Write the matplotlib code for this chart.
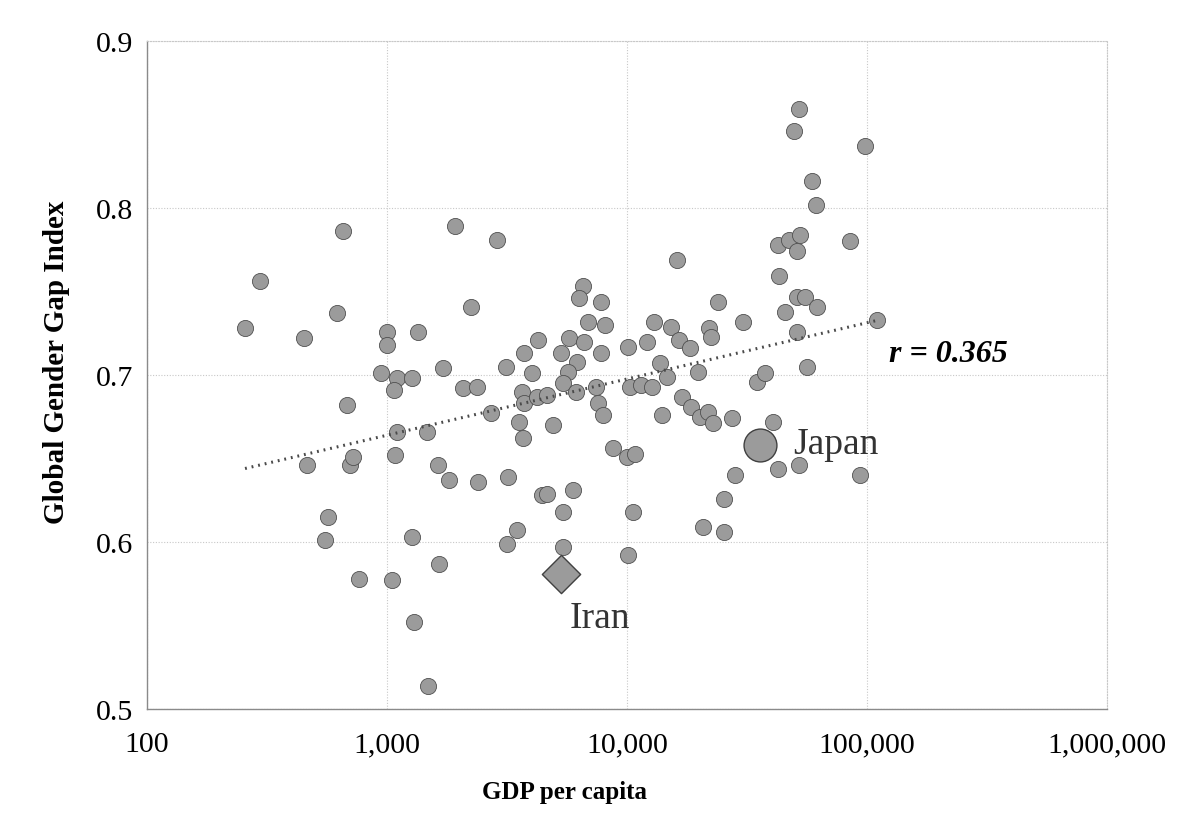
import numpy as np
import matplotlib
matplotlib.use("Agg")
import matplotlib.pyplot as plt
from matplotlib.ticker import FuncFormatter, FixedLocator

# GDP per capita (USD) and Global Gender Gap Index per country
gdp = [
    256, 296, 451, 619, 656, 1000, 1000, 1346, 1712, 944,
    1101, 1271, 1070, 681, 1920, 2873, 2239, 4258, 3723, 3132,
    4020, 464, 701, 722, 1080, 1101, 1468, 1631, 1813, 2394,
    3193, 568, 552, 1271, 1647, 764, 1049, 1295, 1482, 2074,
    2371, 3652, 3723, 4217, 4642, 2712, 3548, 3687, 4424, 4642,
    5957, 5412, 10590, 3481, 3162, 5412, 10100, 8743, 10000, 10800,
    4917, 7570, 7943, 6556, 6310, 7793, 6879, 8096, 5731, 6619,
    5309, 6190, 5679, 7793, 10100, 5412, 6131, 7427, 10290, 11440,
    12710, 16160, 12120, 12950, 15250, 16470, 18300, 21970, 22390, 23940,
    30430, 13720, 14680, 19760, 16960, 18480, 20150, 21760, 22820, 27380,
    13990, 34810, 37580, 40580, 42580, 52120, 28180, 93500, 25370, 20740,
    25370, 42990, 45530, 51090, 55180, 61900, 51090, 56230, 110100, 84950,
    42580, 47320, 52600, 51090, 61310, 59000, 98100, 49630, 52120,
]
ggi = [
    0.728, 0.756, 0.722, 0.737, 0.786, 0.726, 0.718, 0.726, 0.704, 0.701,
    0.698, 0.698, 0.691, 0.682, 0.789, 0.781, 0.741, 0.721, 0.713, 0.705,
    0.701, 0.646, 0.646, 0.651, 0.652, 0.666, 0.666, 0.646, 0.637, 0.636,
    0.639, 0.615, 0.601, 0.603, 0.587, 0.578, 0.577, 0.552, 0.514, 0.692,
    0.693, 0.690, 0.683, 0.687, 0.688, 0.677, 0.672, 0.662, 0.628, 0.629,
    0.631, 0.618, 0.618, 0.607, 0.599, 0.597, 0.592, 0.656, 0.651, 0.653,
    0.670, 0.683, 0.676, 0.753, 0.746, 0.744, 0.732, 0.730, 0.722, 0.720,
    0.713, 0.708, 0.702, 0.713, 0.717, 0.695, 0.690, 0.693, 0.693, 0.694,
    0.693, 0.769, 0.720, 0.732, 0.729, 0.721, 0.716, 0.728, 0.723, 0.744,
    0.732, 0.707, 0.699, 0.702, 0.687, 0.681, 0.675, 0.678, 0.671, 0.674,
    0.676, 0.696, 0.701, 0.672, 0.644, 0.646, 0.640, 0.640, 0.626, 0.609,
    0.606, 0.759, 0.738, 0.747, 0.747, 0.741, 0.726, 0.705, 0.733, 0.780,
    0.778, 0.781, 0.784, 0.774, 0.802, 0.816, 0.837, 0.846, 0.859,
]

# highlighted countries
japan_gdp, japan_ggi = 35830, 0.658
iran_gdp, iran_ggi = 5309, 0.581

x_ticks = [100, 1000, 10000, 100000, 1000000]
y_ticks = [0.5, 0.6, 0.7, 0.8, 0.9]

plt.rcParams["font.family"] = ["Liberation Serif", "DejaVu Serif"]

fig = plt.figure(figsize=(11.83, 8.2), dpi=100)
ax = fig.add_axes([0.1243, 0.1341, 0.8115, 0.8147])

ax.set_xscale("log")
ax.set_xlim(100, 1000000)
ax.set_ylim(0.5, 0.9)

ax.grid(True, which="major", color="#c8c8c8", linestyle=(0, (1, 1.5)), linewidth=0.8)
ax.set_axisbelow(True)

face = "#9b9b9b"
edge = "#505050"
ax.scatter(gdp, ggi, s=135, c=face, edgecolors=edge, linewidths=0.6, zorder=3)
ax.scatter([japan_gdp], [japan_ggi], s=560, c=face, edgecolors="#404040",
           linewidths=1.0, zorder=4)
ax.scatter([iran_gdp], [iran_ggi], marker="D", s=380, c=face,
           edgecolors="#404040", linewidths=1.0, zorder=4)

# log-linear trend through all countries
all_x = np.log10(np.array(gdp + [japan_gdp, iran_gdp], dtype=float))
all_y = np.array(ggi + [japan_ggi, iran_ggi])
slope, intercept = np.polyfit(all_x, all_y, 1)
lx = np.array([all_x.min(), all_x.max()])
ax.plot(10 ** lx, intercept + slope * lx, color="#4a4a4a", linewidth=2.2,
        linestyle=(0, (0.6, 1.6)), zorder=5)

ax.text(10 ** 5.09, 0.713, "r = 0.365", fontsize=23, fontweight="bold",
        fontstyle="italic", va="center", ha="left")
ax.text(japan_gdp * 1.38, japan_ggi + 0.001, "Japan", fontsize=27,
        color="#333333", va="center", ha="left")
ax.text(iran_gdp * 1.09, iran_ggi - 0.0265, "Iran", fontsize=27,
        color="#333333", va="center", ha="left")

ax.xaxis.set_major_locator(FixedLocator(x_ticks))
ax.xaxis.set_minor_locator(FixedLocator([]))
ax.xaxis.set_major_formatter(FuncFormatter(lambda v, p: f"{v:,.0f}"))
ax.yaxis.set_major_locator(FixedLocator(y_ticks))
ax.yaxis.set_major_formatter(FuncFormatter(lambda v, p: f"{v:.1f}"))
ax.tick_params(axis="both", length=0, labelsize=21.5)
ax.tick_params(axis="x", pad=16)
ax.tick_params(axis="y", pad=10)

for side in ["left", "bottom"]:
    ax.spines[side].set_color("#8a8a8a")
    ax.spines[side].set_linewidth(1.0)
for side in ["top", "right"]:
    ax.spines[side].set_color("#c8c8c8")
    ax.spines[side].set_linestyle((0, (1, 1.5)))
    ax.spines[side].set_linewidth(0.8)

ax.set_xlabel("GDP per capita", fontsize=18, fontweight="bold")
ax.set_ylabel("Global Gender Gap Index", fontsize=21, fontweight="bold")
ax.xaxis.set_label_coords(0.435, -0.106)
ax.yaxis.set_label_coords(-0.08, 0.521)

fig.savefig("out.png", dpi=100)
